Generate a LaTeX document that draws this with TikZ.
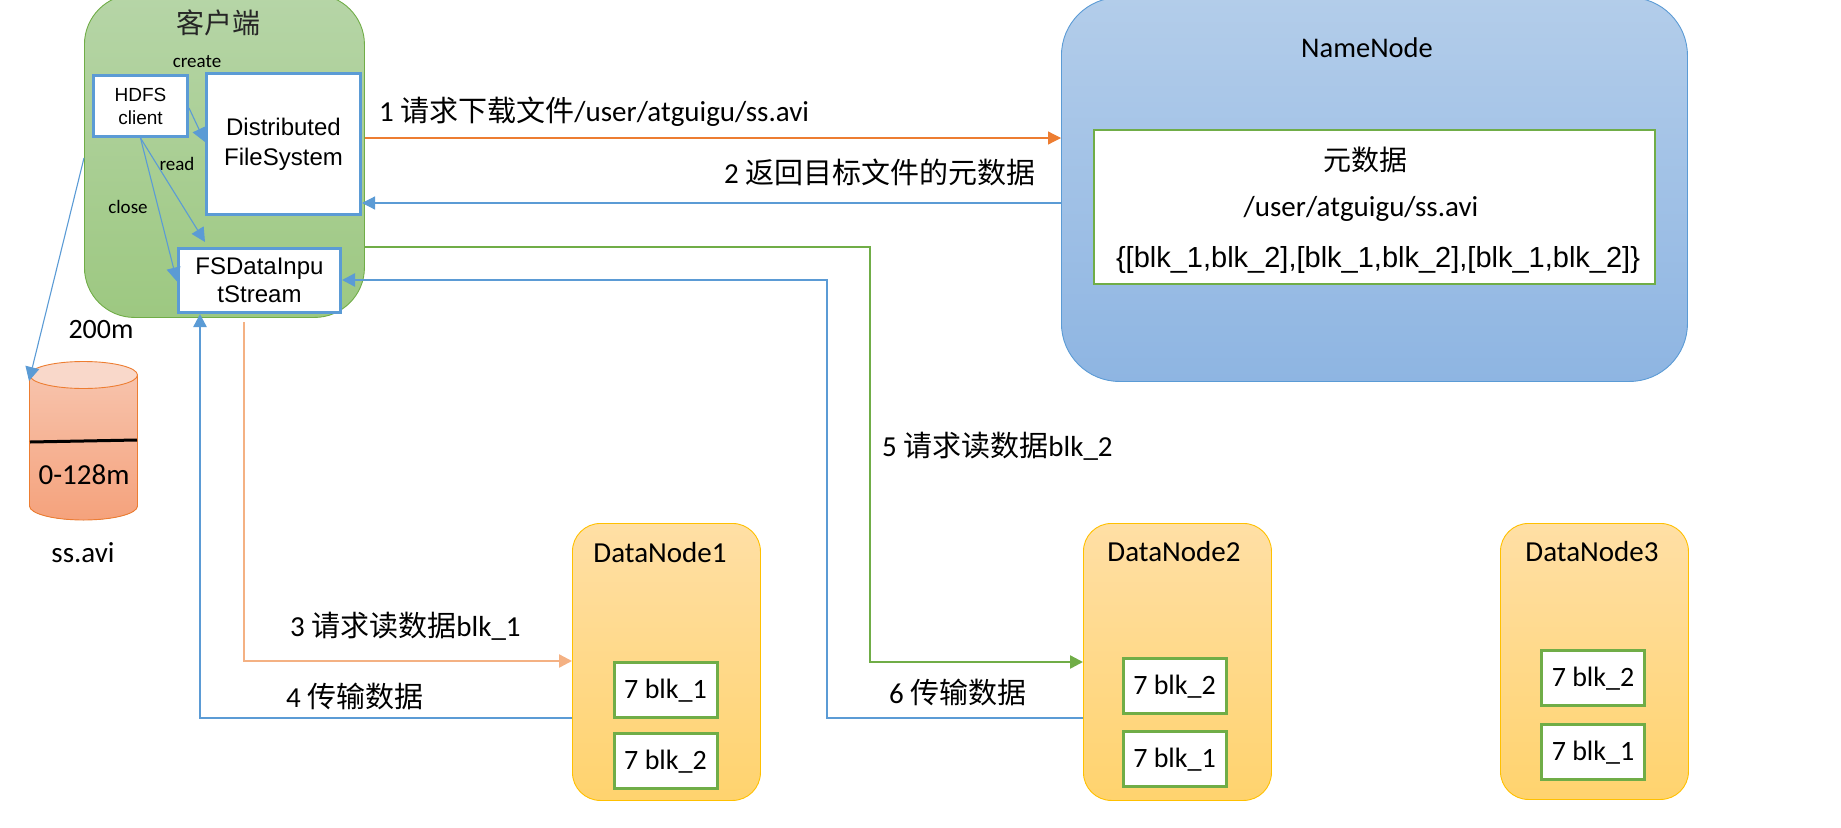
\documentclass[tikz,border=0pt]{standalone}
\usepackage{fontspec}
\setmainfont{Carlito}
\newfontfamily\arialf{Liberation Sans}
\newfontfamily\cjk{Noto Sans CJK SC}
\usetikzlibrary{arrows.meta,calc}
\definecolor{cgreen}{HTML}{70AD47}
\definecolor{cblue}{HTML}{5B9BD5}
\definecolor{corange}{HTML}{ED7D31}
\definecolor{cpeach}{HTML}{F4B183}
\definecolor{cgold}{HTML}{FFC000}
\newcommand{\fs}[1]{\fontsize{#1}{#1}\selectfont}
\definecolor{B5TOP}{HTML}{B6D5A7}
\definecolor{B5BOT}{HTML}{9DC881}
\definecolor{NTOP}{HTML}{B3CDEA}
\definecolor{NBOT}{HTML}{8EB5E2}
\definecolor{DTOP}{HTML}{FFDFA5}
\definecolor{DBOT}{HTML}{FFD36E}
\definecolor{CTOP}{HTML}{F7C3AC}
\definecolor{CBOT}{HTML}{F5A27C}
\definecolor{ETOP}{HTML}{F9D8CA}
\tikzset{
  x=1pt,y=-1pt,
  region/.style={draw,rounded corners=#1,line width=0.9pt,inner sep=0pt,anchor=north west},
  clientbox/.style={region=50pt,draw=cgreen,top color=B5TOP,bottom color=B5BOT},
  namebox/.style={region=58pt,draw=cblue,top color=NTOP,bottom color=NBOT},
  databox/.style={region=28pt,draw=cgold,top color=DTOP,bottom color=DBOT},
  whitebox/.style={draw=cblue,fill=white,line width=3pt,inner sep=0pt,anchor=north west,align=center,font=\arialf},
  blockbox/.style={draw=cgreen,fill=white,line width=3pt,inner sep=0pt,anchor=north west,font=\fs{28},text=black,minimum width=103pt,minimum height=55pt,text height=23pt,text depth=6pt},
  lab/.style={inner sep=0pt,text=black,anchor=center},
  steplab/.style={inner sep=0pt,text=black,anchor=west,font=\fs{29}},
  thinarrow/.style={draw=cblue,line width=1.1pt,-{Triangle[length=14pt,width=14pt]}},
  thickarrow/.style={line width=2.4pt,-{Triangle[length=13pt,width=13pt]}},
}
\begin{document}
\begin{tikzpicture}
\useasboundingbox (0,0) rectangle (1841,827);
\clip (0,0) rectangle (1841,827);
% regions
\node[clientbox,minimum width=280pt,minimum height=323pt] (client) at (84,-6) {};
\node[namebox,minimum width=626pt,minimum height=384pt] (namenode) at (1061,-3) {};
\node[databox,minimum width=188pt,minimum height=277pt] (dn1) at (572,523) {};
\node[databox,minimum width=188pt,minimum height=277pt] (dn2) at (1083,523) {};
\node[databox,minimum width=188pt,minimum height=276pt] (dn3) at (1500,523) {};
% client contents
\node[whitebox,minimum width=94pt,minimum height=61pt] (hdfs) at (92,74) {\fs{19}HDFS\\[8pt]\fs{19}client};
\node[whitebox,minimum width=154pt,minimum height=141pt] (dfs) at (205,72) {\fs{24}Distributed\\[11pt]\fs{24}FileSystem};
\node[whitebox,minimum width=162pt,minimum height=64pt] (fsd) at (177,247) {\fs{24}FSDataInpu\\[5pt]\fs{24}tStream};
\node[lab,font=\cjk\fs{28},text=black!85] (ctitle) at (218,23) {客户端};
\node[lab,font=\fs{19}] (lcreate) at (197,62) {create};
\node[lab,font=\fs{19}] (lread) at (177,164) {read};
\node[lab,font=\fs{19}] (lclose) at (128,207) {close};
% name node contents
\node[lab,font=\fs{28.5}] (nntitle) at (1367,48) {NameNode};
\node[draw=cgreen,fill=white,line width=2.4pt,inner sep=0pt,anchor=north west,minimum width=561pt,minimum height=154pt] (meta) at (1093,129) {};
\node[lab,font=\cjk\fs{28}] (m1) at (1365,160) {元数据};
\node[lab,font=\fs{29}] (m2) at (1361,209) {/user/atguigu/ss.avi};
\node[lab,font=\arialf\fs{29}] (m3) at (1378,260) {\{[blk\_1,blk\_2],[blk\_1,blk\_2],[blk\_1,blk\_2]\}};
% data nodes
\node[lab,font=\fs{29}] (d1t) at (660,553) {DataNode1};
\node[lab,font=\fs{29}] (d2t) at (1174,552) {DataNode2};
\node[lab,font=\fs{29}] (d3t) at (1592,552) {DataNode3};
\node[blockbox] (b11) at (612.5,661) {7 blk\_1};
\node[blockbox] (b12) at (612.5,731.5) {7 blk\_2};
\node[blockbox] (b22) at (1121.5,657) {7 blk\_2};
\node[blockbox] (b21) at (1121.5,729.5) {7 blk\_1};
\node[blockbox] (b32) at (1540,649) {7 blk\_2};
\node[blockbox] (b31) at (1540,723) {7 blk\_1};
% file cylinder
\fill[top color=CTOP,bottom color=CBOT] (29.5,375) -- (29.5,506) arc[start angle=180,end angle=360,x radius=54,y radius=-14] -- (137.5,375) -- cycle;
\draw[corange,line width=0.9pt] (29.5,375) -- (29.5,506) arc[start angle=180,end angle=360,x radius=54,y radius=-14] -- (137.5,375);
\draw[corange,fill=ETOP,line width=0.9pt] (83.5,375) ellipse[x radius=54,y radius=13.5];
\draw[black,line width=3pt] (30,442) -- (137,440);
\coordinate (cyltop) at (29,381);
\node[lab,font=\fs{28}] (l200) at (101,330) {200m};
\node[lab,font=\fs{29}] (l128) at (84,475) {0-128m};
\node[lab,font=\fs{29}] (lss) at (83,553) {ss.avi};
% thin arrows
\draw[thinarrow] ([yshift=-2pt]hdfs.east) -- ([yshift=2pt]dfs.west);
\coordinate (fsdtop) at (205,242);
\draw[thinarrow] (hdfs.south) -- (fsdtop);
\draw[thinarrow] (hdfs.south) -- ([yshift=-1pt]fsd.west);
\draw[thinarrow] ([yshift=-2pt]client.west) -- (cyltop);
% main arrows
\coordinate (g1) at (870,247);
\coordinate (g2) at (870,662);
\coordinate (b1) at (827,718);
\coordinate (b2) at (827,280);
\coordinate (c1) at (200,718);
\coordinate (p1) at (244,322);
\coordinate (p2) at (244,661);
\draw[thickarrow,draw=corange,line width=1.2pt] (client.east |- 0,138) -- (namenode.west |- 0,138);
\draw[thickarrow,draw=cblue,line width=1.2pt] (namenode.west |- 0,203) -- (dfs.east |- 0,203);
\draw[thickarrow,draw=cgreen] (client.east |- g1) -- (g1) -- (g2) -- (dn2.west |- g2);
\draw[thickarrow,draw=cblue] (dn2.west |- b1) -- (b1) -- (b2) -- (fsd.east |- b2);
\draw[thickarrow,draw=cblue] (dn1.west |- c1) -- (c1) -- (c1 |- fsd.south);
\draw[thickarrow,draw=cpeach] (p1) -- (p2) -- (dn1.west |- p2);
% step labels
\node[steplab] (s1) at (379,112) {1 {\cjk 请求下载文件}/user/atguigu/ss.avi};
\node[steplab] (s2) at (724,172) {2 {\cjk 返回目标文件的元数据}};
\node[steplab] (s3) at (290,626) {3 {\cjk 请求读数据}blk\_1};
\node[steplab] (s4) at (286,696) {4 {\cjk 传输数据}};
\node[steplab] (s5) at (882,446) {5 {\cjk 请求读数据}blk\_2};
\node[steplab] (s6) at (889,692) {6 {\cjk 传输数据}};
\end{tikzpicture}
\end{document}
